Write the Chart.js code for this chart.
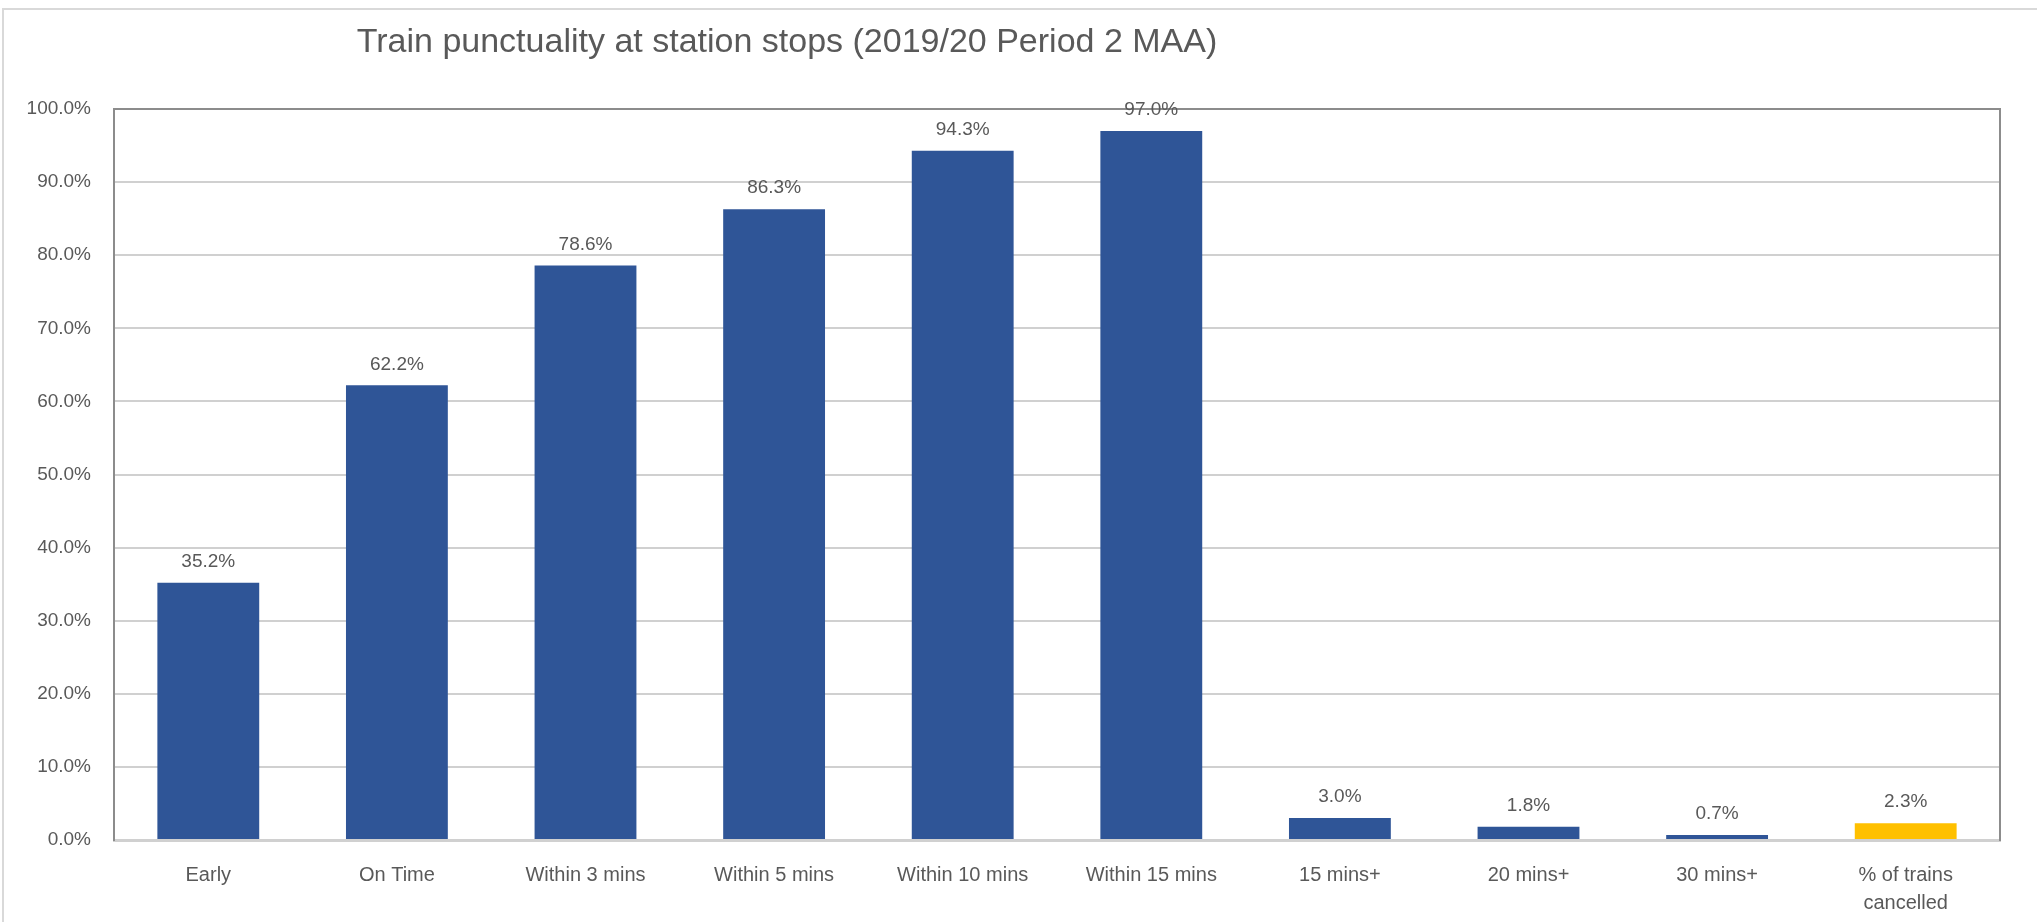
<!DOCTYPE html>
<html>
<head>
<meta charset="utf-8">
<script src="https://cdn.jsdelivr.net/npm/chart.js@4/dist/chart.umd.min.js"></script>
<style>
  html, body { margin: 0; padding: 0; background: #fff; overflow: hidden; }
  #frame { position: absolute; left: 2px; top: 8px; width: 2100px; height: 1000px; border: 2px solid #d9d9d9; }
  #wrap { position: absolute; left: 0; top: 0; width: 2037px; height: 922px; }
</style>
</head>
<body>
<div id="frame"></div>
<div id="wrap"><canvas id="myChart"></canvas></div>
<script>
var titleText = 'Train punctuality at station stops (2019/20 Period 2 MAA)';
var categories = ['Early', 'On Time', 'Within 3 mins', 'Within 5 mins', 'Within 10 mins',
    'Within 15 mins', '15 mins+', '20 mins+', '30 mins+', ['% of trains', 'cancelled']];
var values = [35.2, 62.2, 78.6, 86.3, 94.3, 97.0, 3.0, 1.8, 0.7, 2.3];
var barColours = ['#2f5597', '#2f5597', '#2f5597', '#2f5597', '#2f5597',
    '#2f5597', '#2f5597', '#2f5597', '#2f5597', '#ffc000'];
var yTicks = [0, 10, 20, 30, 40, 50, 60, 70, 80, 90, 100];

var textColour = '#595959';
var fontFamily = '"Liberation Sans", Arial, sans-serif';

// value labels on top of bars + the title
var labelsPlugin = {
    id: 'labels',
    afterDatasetsDraw: function(chart) {
        var ctx = chart.ctx;
        var meta = chart.getDatasetMeta(0);
        ctx.save();
        ctx.fillStyle = textColour;
        ctx.font = '19px ' + fontFamily;
        ctx.textAlign = 'center';
        ctx.textBaseline = 'middle';
        meta.data.forEach(function(bar, i) {
            ctx.fillText(values[i].toFixed(1) + '%', bar.x, bar.y - 21);
        });
        ctx.font = '34px ' + fontFamily;
        ctx.fillText(titleText, 787, 43);
        ctx.restore();
    }
};

var ctx = document.getElementById('myChart').getContext('2d');
var chart = new Chart(ctx, {
    type: 'bar',
    data: {
        labels: categories,
        datasets: [{
            data: values,
            backgroundColor: barColours,
            barPercentage: 0.54,
            categoryPercentage: 1.0
        }]
    },
    options: {
        responsive: true,
        maintainAspectRatio: false,
        animation: false,
        layout: { padding: { top: 109, right: 37, left: 0, bottom: 0 } },
        plugins: {
            legend: { display: false },
            tooltip: { enabled: false },
            title: { display: false }
        },
        scales: {
            x: {
                grid: { display: false },
                border: { color: '#d0d0d0', width: 3 },
                ticks: {
                    color: textColour,
                    font: { family: fontFamily, size: 20, lineHeight: 1.4 },
                    padding: 13,
                    maxRotation: 0,
                    autoSkip: false
                },
                afterFit: function(scale) { scale.height = 82; }
            },
            y: {
                min: 0,
                max: 100,
                afterBuildTicks: function(scale) {
                    scale.ticks = yTicks.map(function(v) { return { value: v }; });
                },
                grid: {
                    color: function(c) { return c.tick && c.tick.value === 100 ? '#8c8c8c' : '#d0d0d0'; },
                    lineWidth: 2,
                    drawTicks: false
                },
                border: { color: '#8c8c8c', width: 2 },
                ticks: {
                    color: textColour,
                    font: { family: fontFamily, size: 19 },
                    padding: 23,
                    callback: function(v) { return v.toFixed(1) + '%'; }
                },
                afterFit: function(scale) { scale.width = 114; }
            },
            yRight: {
                position: 'right',
                min: 0,
                max: 100,
                grid: { display: false },
                border: { color: '#8c8c8c', width: 2 },
                ticks: { display: false },
                afterFit: function(scale) { scale.width = 0; }
            }
        }
    },
    plugins: [labelsPlugin]
});
</script>
</body>
</html>
